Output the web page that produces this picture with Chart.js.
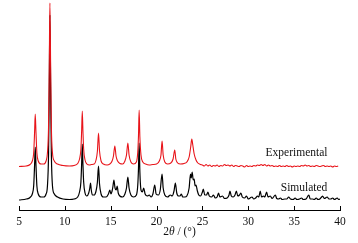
<!DOCTYPE html>
<html>
<head>
<meta charset="utf-8">
<script src="https://cdn.jsdelivr.net/npm/chart.js@4"></script>
<style>
html,body{margin:0;padding:0;background:#fff;}
#wrap{width:358px;height:243px;position:relative;}
</style>
</head>
<body>
<div id="wrap"><canvas id="c" width="358" height="243"></canvas></div>
<script>
// ---- Data (intensity in arbitrary units, above each pattern's own baseline) ----
const seriesNames = ["Simulated", "Experimental"];
const xTicks = [5, 10, 15, 20, 25, 30, 35, 40];
const axisTitle = ["2", "θ", " / (°)"];

const expTheta = [5.0,5.8,6.2,6.45,6.6,6.7,6.77,6.85,6.95,7.1,7.4,7.7,7.95,8.1,8.22,8.3,8.37,8.45,8.53,8.65,8.85,9.2,9.8,10.5,11.0,11.4,11.6,11.75,11.83,11.9,11.97,12.05,12.2,12.4,12.7,12.9,13.2,13.4,13.55,13.67,13.78,13.95,14.2,14.6,14.9,15.15,15.3,15.45,15.58,15.75,16.0,16.3,16.55,16.72,16.87,17.0,17.2,17.5,17.8,17.95,18.03,18.1,18.18,18.3,18.5,18.8,19.2,19.6,20.0,20.3,20.48,20.6,20.72,20.9,21.2,21.55,21.8,21.98,22.1,22.3,22.6,23.0,23.3,23.55,23.72,23.84,23.95,24.1,24.3,24.5,24.8,25.0,25.2,25.4,25.6,25.8,26.0,26.2,26.4,26.6,26.8,27.0,27.2,27.4,27.6,27.8,28.0,28.2,28.4,28.6,28.8,29.0,29.2,29.4,29.6,29.8,30.0,30.2,30.4,30.6,30.8,31.0,31.2,31.4,31.6,31.8,32.0,32.2,32.4,32.6,32.8,33.0,33.2,33.4,33.6,33.8,34.0,34.2,34.4,34.6,34.8,35.0,35.2,35.4,35.6,35.8,36.0,36.2,36.4,36.6,36.8,37.0,37.2,37.4,37.6,37.8,38.0,38.2,38.4,38.6,38.8,39.0,39.2,39.4,39.6,39.8,40.0];
const expIntensity = [0.5,1,2.5,6,14,35,53,35,14,6,3,3,6,14,40,100,164,100,40,14,6,3,1.5,1,1.5,3.5,8,18,36,56,36,18,7,3,2,2.5,3,7,16,34,16,6,3,2,3,6,11,21,11,6,3.5,3,6,12,24,12,5,3,5,15,32,57,30,12,5,3,2,2.5,3,6,12,26,12,5,3,4,8,17,8,4,3,3.5,5,10,20,28,22,13,7,4,2.5,2,1,2.5,1,2,0.5,1.5,1,2,0.5,1.5,1,2.5,1.5,2,1,2,0.5,1.5,1,0.5,1.5,1,0,1.5,0.5,1,0.5,1.5,1,2,1.5,2.5,1.5,2.5,1,2,1,1.5,0.5,1,0.5,1.5,0.5,1,0.5,1.5,0.5,1,0,1,0.5,1,0.5,1.5,1,2,1,1.5,0.5,1,0.5,1.5,1,0.5,1,1.5,0.5,1,0.5,1,0,1,0.5,1];

const simTheta = [5.0,5.8,6.2,6.45,6.6,6.7,6.77,6.85,6.95,7.1,7.4,7.7,7.95,8.1,8.22,8.3,8.37,8.45,8.53,8.65,8.85,9.2,9.8,10.5,11.0,11.4,11.6,11.75,11.83,11.9,11.97,12.05,12.2,12.4,12.6,12.72,12.8,12.88,13.0,13.2,13.4,13.55,13.67,13.78,13.95,14.2,14.5,14.75,14.9,15.02,15.15,15.25,15.35,15.47,15.6,15.7,15.82,16.0,16.3,16.55,16.72,16.87,17.0,17.2,17.5,17.8,17.95,18.03,18.1,18.18,18.3,18.45,18.6,18.75,19.0,19.2,19.4,19.6,19.8,19.95,20.2,20.4,20.6,20.72,20.9,21.2,21.5,21.7,21.9,22.05,22.2,22.4,22.55,22.7,22.85,23.1,23.3,23.55,23.7,23.78,23.88,24.0,24.1,24.2,24.3,24.45,24.6,24.8,25.0,25.1,25.25,25.45,25.6,25.75,26.0,26.2,26.4,26.6,26.75,26.9,27.2,27.4,27.7,27.9,28.0,28.15,28.35,28.55,28.7,28.85,29.05,29.2,29.35,29.6,29.8,30.0,30.2,30.4,30.6,30.8,31.0,31.15,31.3,31.45,31.65,31.8,32.0,32.15,32.4,32.6,32.95,33.1,33.3,33.5,33.7,34.0,34.2,34.4,34.6,34.9,35.1,35.3,35.6,35.8,36.0,36.3,36.6,36.75,37.0,37.2,37.4,37.6,37.8,38.0,38.1,38.3,38.6,38.8,39.0,39.2,39.4,39.7,39.85,40.0];
const simIntensity = [0,1,2.5,6,14,35,53,35,14,6,3,3,6,14,45,110,185,110,45,14,6,3,1,0.5,1,3,8,18,36,56,36,18,7,4,7,12,17,10,5,5,9,18,34,16,6,3,3,6,10,6,9,14,20,12,10,14,7,4,3,6,12,23,12,5,3,5,15,32,57,28,10,8,12,6,4,5,3,6,15,6,5,10,26,12,5,3,5,4,9,17,7,4,4,6,3,3,4,12,26,22,28,20,21,14,15,9,5,4,8,11,5,5,8,4,3,5,2,3,7,3,4,1.5,2,5,9,4,3,5,9,4,5,7,3,2,4,1,2,3,1,2,4,3,9,3,4,3,8,3,4,1.5,5,1.5,1,2,0.5,1,1,3,1,0.5,2,0.5,1,2,0.5,1,5,1,1,0.5,2,0.5,1,3,4,1.5,3,1,1,2,0.5,2,0.5,1];

// vertical offsets of the stacked patterns (a.u.)
const simOffset = 10;
const expOffset = 43;

const labelPos = { Simulated: [36.08, 21.7], Experimental: [35.26, 57] };

const FONT = '"Liberation Serif", "Times New Roman", "DejaVu Serif", serif';

function toXY(xs, ys, off) { return xs.map((x, i) => ({ x: x, y: ys[i] + off })); }

const innerTicks = {
  id: 'innerTicks',
  afterDraw(chart) {
    const ctx = chart.ctx, xs = chart.scales.x, ys = chart.scales.y;
    const yb = chart.chartArea.bottom;
    ctx.save();
    ctx.strokeStyle = '#000';
    ctx.lineWidth = 1;
    xTicks.forEach(t => {
      const px = Math.round(xs.getPixelForValue(t)) + 0.5;
      ctx.beginPath(); ctx.moveTo(px, yb); ctx.lineTo(px, yb - 4); ctx.stroke();
    });
    // series labels
    ctx.fillStyle = '#111';
    ctx.font = '11.5px ' + FONT;
    ctx.textAlign = 'center'; ctx.textBaseline = 'middle';
    seriesNames.forEach(n => {
      const p = labelPos[n];
      ctx.fillText(n, xs.getPixelForValue(p[0]), ys.getPixelForValue(p[1]));
    });
    // axis title with italic theta
    const parts = [['11.5px ', axisTitle[0]], ['italic 11.5px ', axisTitle[1]], ['11.5px ', axisTitle[2]]];
    let total = 0;
    parts.forEach(p => { ctx.font = p[0] + FONT; total += ctx.measureText(p[1]).width; });
    let x = (xs.left + xs.right) / 2 - total / 2;
    ctx.textAlign = 'left';
    parts.forEach(p => { ctx.font = p[0] + FONT; ctx.fillText(p[1], x, 232); x += ctx.measureText(p[1]).width; });
    ctx.restore();
  }
};

new Chart(document.getElementById('c'), {
  type: 'line',
  data: {
    datasets: [
      { label: seriesNames[0], data: toXY(simTheta, simIntensity, simOffset), borderColor: '#000', borderWidth: 1.2, pointRadius: 0, cubicInterpolationMode: 'monotone', fill: false, order: 2 },
      { label: seriesNames[1], data: toXY(expTheta, expIntensity, expOffset), borderColor: '#e8141a', borderWidth: 1.1, pointRadius: 0, cubicInterpolationMode: 'monotone', fill: false, order: 1 }
    ]
  },
  options: {
    responsive: false,
    animation: false,
    events: [],
    layout: { padding: { left: 19, right: 18, top: 0, bottom: 0 } },
    plugins: { legend: { display: false }, tooltip: { enabled: false } },
    scales: {
      x: {
        type: 'linear', min: 5, max: 40,
        afterFit(s) { s.height = 33; },
        afterBuildTicks(s) { s.ticks = xTicks.map(v => ({ value: v })); },
        grid: { display: false, drawTicks: false },
        border: { display: true, color: '#000', width: 1 },
        ticks: { color: '#111', padding: 5, font: { family: FONT, size: 11.5 }, maxRotation: 0 }
      },
      y: { type: 'linear', display: false, min: 0, max: 210 }
    }
  },
  plugins: [innerTicks]
});
</script>
</body>
</html>
